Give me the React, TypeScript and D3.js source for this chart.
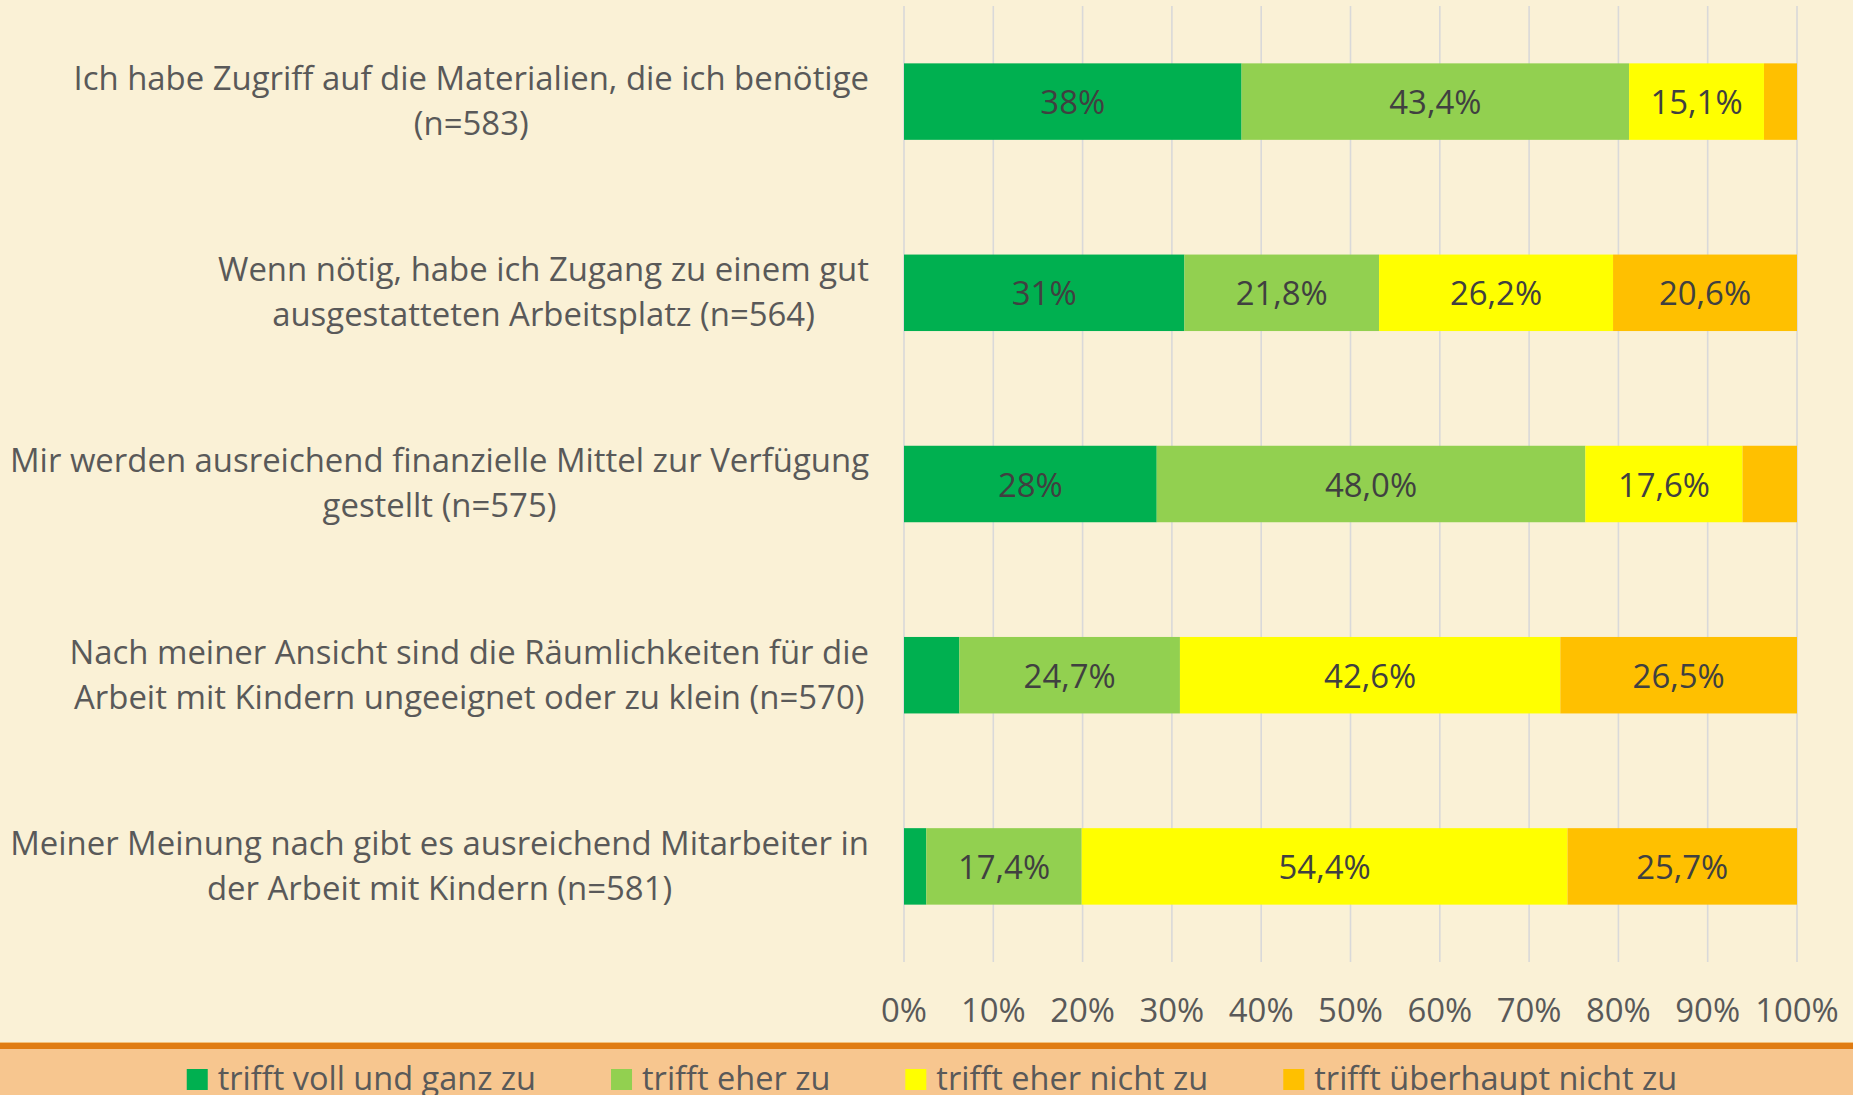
import React, { useEffect, useRef } from 'react';
import * as d3 from 'd3';

// answers, top to bottom
const questions = [
  ['Ich habe Zugriff auf die Materialien, die ich benötige', '(n=583)'],
  ['Wenn nötig, habe ich Zugang zu einem gut', 'ausgestatteten Arbeitsplatz (n=564)'],
  ['Mir werden ausreichend finanzielle Mittel zur Verfügung', 'gestellt (n=575)'],
  ['Nach meiner Ansicht sind die Räumlichkeiten für die', 'Arbeit mit Kindern ungeeignet oder zu klein (n=570)'],
  ['Meiner Meinung nach gibt es ausreichend Mitarbeiter in', 'der Arbeit mit Kindern (n=581)'],
];

const seriesNames = ['trifft voll und ganz zu', 'trifft eher zu', 'trifft eher nicht zu', 'trifft überhaupt nicht zu'];
const seriesColors = ['#00b050', '#92d050', '#ffff00', '#ffc000'];

const vollUndGanz = [37.8, 31.4, 28.3, 6.2, 2.5];
const eher = [43.4, 21.8, 48.0, 24.7, 17.4];
const eherNicht = [15.1, 26.2, 17.6, 42.6, 54.4];
const ueberhauptNicht = [3.7, 20.6, 6.1, 26.5, 25.7];

const xTicks = [0, 10, 20, 30, 40, 50, 60, 70, 80, 90, 100];

const W = 1853;
const H = 1095;
const FONT = '"Open Sans", sans-serif';
const FS = 32.9;

const App: React.FC = () => {
  const svgRef = useRef<SVGSVGElement | null>(null);

  useEffect(() => {
    document.body.style.margin = '0';
    document.body.style.overflow = 'hidden';

    const svg = d3.select(svgRef.current);
    svg.selectAll('*').remove();

    const plotLeft = 904;
    const plotRight = 1797;
    const plotTop = 6;
    const plotBottom = 962;

    svg.append('rect').attr('width', W).attr('height', H).attr('fill', '#faf1d6');

    const x = d3.scaleLinear().domain([0, 100]).range([plotLeft, plotRight]);
    const y = d3.scaleBand<number>()
      .domain(d3.range(questions.length))
      .range([plotTop, plotBottom])
      .paddingInner(0.6)
      .paddingOuter(0.3);

    // gridlines
    svg.append('g')
      .selectAll('line')
      .data(xTicks)
      .join('line')
      .attr('x1', d => x(d))
      .attr('x2', d => x(d))
      .attr('y1', plotTop)
      .attr('y2', plotBottom)
      .attr('stroke', '#d9d9d9')
      .attr('stroke-width', 1.6);

    // stacked data
    const rows = questions.map((_, i) => ({
      i,
      s0: vollUndGanz[i],
      s1: eher[i],
      s2: eherNicht[i],
      s3: ueberhauptNicht[i],
    }));
    const stack = d3.stack<any>().keys(['s0', 's1', 's2', 's3']);
    const stacked = stack(rows);

    const fmtInt = d3.format('.0f');
    const fmtDec = d3.format('.1f');

    stacked.forEach((layer, k) => {
      const g = svg.append('g');
      g.selectAll('rect')
        .data(layer)
        .join('rect')
        .attr('x', d => x(d[0]))
        .attr('width', d => x(d[1]) - x(d[0]))
        .attr('y', d => y(d.data.i)!)
        .attr('height', y.bandwidth())
        .attr('fill', seriesColors[k]);

      g.selectAll('text')
        .data(layer.filter(d => d[1] - d[0] > 8))
        .join('text')
        .attr('x', d => x((d[0] + d[1]) / 2))
        .attr('y', d => y(d.data.i)! + y.bandwidth() / 2)
        .attr('dy', '0.38em')
        .attr('text-anchor', 'middle')
        .attr('font-family', FONT)
        .attr('font-size', FS)
        .attr('fill', '#404040')
        .text(d => {
          const v = d[1] - d[0];
          return (k === 0 ? fmtInt(v) : fmtDec(v).replace('.', ',')) + '%';
        });
    });

    // x axis labels
    svg.append('g')
      .selectAll('text')
      .data(xTicks)
      .join('text')
      .attr('x', d => x(d))
      .attr('y', 1022)
      .attr('text-anchor', 'middle')
      .attr('font-family', FONT)
      .attr('font-size', FS)
      .attr('fill', '#595959')
      .text(d => d + '%');

    // category labels: lines centred on each other, block right-aligned
    const labelRight = 869;
    const lineH = 45;
    questions.forEach((lines, i) => {
      const cy = y(i)! + y.bandwidth() / 2 - 1;
      const t = svg.append('text')
        .attr('font-family', FONT)
        .attr('font-size', FS)
        .attr('fill', '#595959')
        .attr('text-anchor', 'middle');
      const spans = lines.map((line, j) =>
        t.append('tspan')
          .attr('y', cy + (j - (lines.length - 1) / 2) * lineH)
          .attr('dy', '0.36em')
          .text(line)
      );
      const maxW = d3.max(spans, s => (s.node() as SVGTextContentElement).getComputedTextLength())!;
      spans.forEach(s => s.attr('x', labelRight - maxW / 2));
    });

    // legend band
    svg.append('rect').attr('x', 0).attr('y', 1046).attr('width', W).attr('height', H - 1046).attr('fill', '#f7c68f');
    svg.append('rect').attr('x', 0).attr('y', 1043).attr('width', W).attr('height', 6).attr('fill', '#e07c12');
    svg.append('line').attr('x1', 0).attr('x2', W).attr('y1', 1042.5).attr('y2', 1042.5).attr('stroke', '#f3c07a');

    const legend = svg.append('g');
    const sq = 21;
    const gapText = 10;
    const gapItem = 75;
    let cursor = 0;
    seriesNames.forEach((name, k) => {
      const it = legend.append('g');
      it.append('rect')
        .attr('x', cursor)
        .attr('y', 1069)
        .attr('width', sq)
        .attr('height', sq)
        .attr('fill', seriesColors[k]);
      const txt = it.append('text')
        .attr('x', cursor + sq + gapText)
        .attr('y', 1090)
        .attr('font-family', FONT)
        .attr('font-size', 32.5)
        .attr('fill', '#595959')
        .text(name);
      const w = (txt.node() as SVGTextContentElement).getComputedTextLength();
      cursor += sq + gapText + w + gapItem;
    });
    const total = cursor - gapItem;
    legend.attr('transform', `translate(${932 - total / 2},0)`);
  }, []);

  return (
    <svg
      ref={svgRef}
      width={W}
      height={H}
      style={{ position: 'absolute', left: 0, top: 0, display: 'block' }}
    />
  );
};

export default App;
